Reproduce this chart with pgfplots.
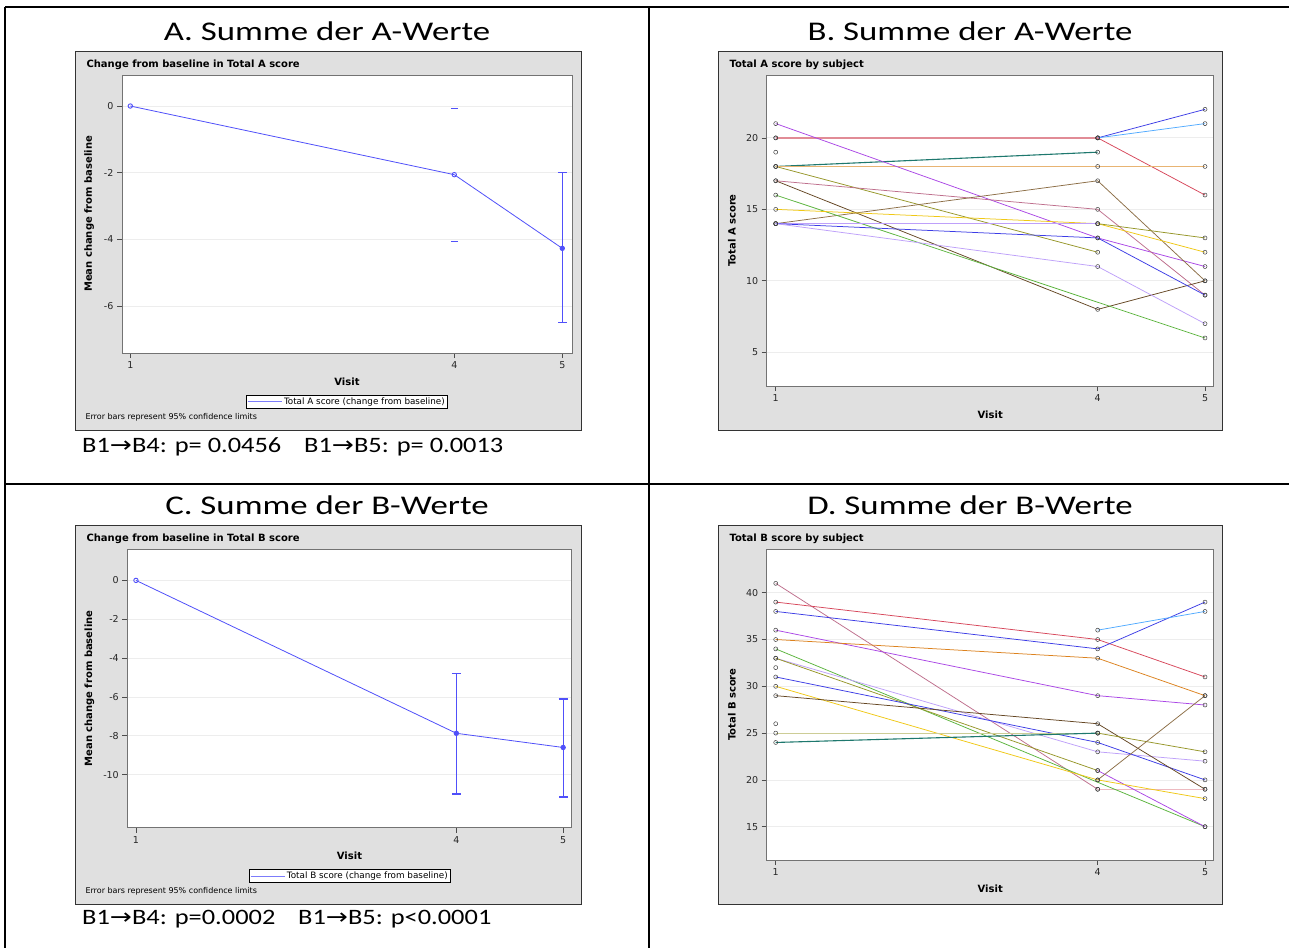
\documentclass[border=0pt]{standalone}
\usepackage{fontspec}
\setmainfont{Carlito}
\newfontfamily\sasfont{DejaVu Sans}
\newfontfamily\arrowfont{DejaVu Sans}
\usepackage{pgfplots}
\pgfplotsset{compat=1.18}

\definecolor{sasgray}{RGB}{224,224,224}
\definecolor{sasblue}{RGB}{80,80,250}
\definecolor{cpink}{RGB}{225,140,150}
\definecolor{cred}{RGB}{215,70,90}
\definecolor{cblue}{RGB}{60,60,230}
\definecolor{clightblue}{RGB}{80,170,255}
\definecolor{cteal}{RGB}{30,120,110}
\definecolor{ctan}{RGB}{232,180,115}
\definecolor{corange}{RGB}{220,130,30}
\definecolor{colive}{RGB}{150,150,40}
\definecolor{cpurple}{RGB}{170,70,230}
\definecolor{cmauve}{RGB}{190,110,140}
\definecolor{cdbrown}{RGB}{100,70,35}
\definecolor{cbrown}{RGB}{140,110,70}
\definecolor{cgreen}{RGB}{90,180,60}
\definecolor{cyellow}{RGB}{240,200,20}
\definecolor{clavender}{RGB}{190,160,250}
\definecolor{cpaleolive}{RGB}{205,205,150}

\pgfplotsset{
  sas/.style={
    scale only axis,
    anchor=south west,
    axis background/.style={fill=white},
    axis line style={black!55, line width=0.8pt},
    xtick pos=bottom, ytick pos=left,
    tick align=outside,
    major tick length=5pt,
    tick style={black!70, line width=0.7pt},
    xtick={1,4,5},
    ymajorgrids,
    grid style={black!7, line width=0.8pt},
    /pgf/number format/assume math mode=true,
    ticklabel style={font=\sasfont\fontsize{9.5}{10}\selectfont, text=black!85},
    label style={font=\sasfont\bfseries\fontsize{10}{11}\selectfont},
    xlabel={Visit},
  },
  meanline/.style={sasblue, line width=0.8pt, mark=o, mark size=2.2pt,
    mark options={line width=0.9pt}},
  ebar/.style={forget plot, sasblue, only marks, mark=none,
    error bars/.cd, y dir=both, y explicit,
    error bar style={sasblue, line width=1.3pt},
    error mark options={rotate=90, sasblue, mark size=4.5pt, line width=1.3pt}},
  meanlegend/.style={
    legend style={at={#1}, anchor=center, draw=black, line width=0.8pt,
      fill=white, inner sep=0.5pt,
      font=\sasfont\fontsize{8.8}{9.5}\selectfont},
  },
  subj/.style={#1, line width=0.75pt, mark=o, mark size=2pt,
    mark options={draw=black!75, line width=0.5pt, solid}},
}

\begin{document}
\begin{tikzpicture}[x=1pt,y=1pt]
\useasboundingbox (0pt,0pt) rectangle (1289pt,-948pt);

% table frame
\draw[line width=2pt] (5pt,-7pt) -- (1289pt,-7pt);
\draw[line width=2pt] (5pt,-7pt) -- (5pt,-948pt);
\draw[line width=2pt] (649pt,-7pt) -- (649pt,-948pt);
\draw[line width=2pt] (5pt,-484pt) -- (1289pt,-484pt);

% panel headings
\begin{scope}[font=\fontsize{27}{30}\selectfont]
\node at (327pt,-31pt) {\scalebox{1.29}[1]{A. Summe der A-Werte}};
\node at (970pt,-31pt) {\scalebox{1.29}[1]{B. Summe der A-Werte}};
\node at (327pt,-505pt) {\scalebox{1.29}[1]{C. Summe der B-Werte}};
\node at (970pt,-505pt) {\scalebox{1.29}[1]{D. Summe der B-Werte}};
\end{scope}

\node[anchor=west, font=\fontsize{22}{24}\selectfont, inner sep=0pt] at (82pt,-447pt)
  {\scalebox{1.2}[1]{B1{\arrowfont →}B4: p= 0.0456\hspace{14pt} B1{\arrowfont →}B5: p= 0.0013}};
\node[anchor=west, font=\fontsize{22}{24}\selectfont, inner sep=0pt] at (82pt,-919pt)
  {\scalebox{1.2}[1]{B1{\arrowfont →}B4: p=0.0002\hspace{14pt} B1{\arrowfont →}B5: p<0.0001}};

% SAS panel backgrounds
\draw[black!80, fill=sasgray, line width=0.8pt] (75pt,-51pt) rectangle (581pt,-430pt);
\draw[black!80, fill=sasgray, line width=0.8pt] (718pt,-51pt) rectangle (1222pt,-430pt);
\draw[black!80, fill=sasgray, line width=0.8pt] (75pt,-525pt) rectangle (581pt,-904pt);
\draw[black!80, fill=sasgray, line width=0.8pt] (718pt,-525pt) rectangle (1222pt,-904pt);

\begin{scope}[font=\sasfont\bfseries\fontsize{10}{11}\selectfont]
\node[anchor=west] at (83pt,-65pt) {Change from baseline in Total A score};
\node[anchor=west] at (726pt,-65pt) {Total A score by subject};
\node[anchor=west] at (83pt,-539pt) {Change from baseline in Total B score};
\node[anchor=west] at (726pt,-539pt) {Total B score by subject};
\end{scope}
\begin{scope}[font=\sasfont\fontsize{8}{9}\selectfont]
\node[anchor=west] at (82pt,-417pt) {Error bars represent 95\% confidence limits};
\node[anchor=west] at (82pt,-891pt) {Error bars represent 95\% confidence limits};
\end{scope}

% ---- A: mean change, Total A
\begin{axis}[sas, at={(122pt,-353pt)}, width=450pt, height=278pt,
  xmin=0.923, xmax=5.09, ymin=-7.41, ymax=0.93, ytick={-6,-4,-2,0},
  ylabel={Mean change from baseline},
  ylabel style={at={(axis description cs:-0.073,0.5)}, anchor=center},
  xlabel style={at={(axis description cs:0.5,-0.104)}, anchor=center},
  meanlegend={(0.5,-0.175)},
  legend image code/.code={\draw[draw=sasblue!75, line width=0.8pt] (0pt,0pt) -- (34pt,0pt);}]
\addplot[meanline] coordinates {(1,0) (4,-2.06) (5,-4.27)};
\addlegendentry{Total A score (change from baseline)}
\addplot[ebar] coordinates {(5,-4.27) += (0,2.27) -= (0,2.23)};
\addplot[forget plot, only marks, mark=-, mark size=3.5pt,
  mark options={draw=sasblue, line width=0.7pt}] coordinates {(4,-0.07) (4,-4.07)};
\end{axis}

% ---- B: Total A by subject
\begin{axis}[sas, at={(766.7pt,-386pt)}, width=447pt, height=311pt,
  xmin=0.916, xmax=5.081, ymin=2.64, ymax=24.4, ytick={5,10,15,20},
  ylabel={Total A score},
  ylabel style={at={(axis description cs:-0.078,0.5)}, anchor=center},
  xlabel style={at={(axis description cs:0.5,-0.093)}, anchor=center}]
\addplot[subj=cblue] coordinates {(1,20) (4,20) (5,22)};
\addplot[subj=clightblue] coordinates {(4,20) (5,21)};
\addplot[subj=cpink, line width=1.6pt] coordinates {(1,20) (4,20)};
\addplot[subj=cred] coordinates {(4,20) (5,16)};
\addplot[subj=black, only marks] coordinates {(1,19)};
\addplot[subj=cteal, line width=1.1pt] coordinates {(1,18) (4,19)};
\addplot[subj=colive] coordinates {(1,18) (4,12)};
\addplot[subj=ctan, line width=1.8pt] coordinates {(1,18) (4,18) (5,18)};
\addplot[subj=cpurple] coordinates {(1,21) (4,13) (5,11)};
\addplot[subj=cmauve] coordinates {(1,17) (4,15) (5,9)};
\addplot[subj=cdbrown] coordinates {(1,17) (4,8) (5,10)};
\addplot[subj=cbrown] coordinates {(1,14) (4,17) (5,10)};
\addplot[subj=cgreen] coordinates {(1,16) (5,6)};
\addplot[subj=cyellow] coordinates {(1,15) (4,14) (5,12)};
\addplot[subj=clavender] coordinates {(1,14) (4,14)};
\addplot[subj=colive] coordinates {(4,14) (5,13)};
\addplot[subj=cblue] coordinates {(1,14) (4,13) (5,9)};
\addplot[subj=clavender] coordinates {(1,14) (4,11) (5,7)};
\end{axis}

% ---- C: mean change, Total B
\begin{axis}[sas, at={(127.3pt,-827.7pt)}, width=444.4pt, height=278.4pt,
  xmin=0.919, xmax=5.08, ymin=-12.73, ymax=1.6, ytick={-10,-8,-6,-4,-2,0},
  ylabel={Mean change from baseline},
  ylabel style={at={(axis description cs:-0.0855,0.5)}, anchor=center},
  xlabel style={at={(axis description cs:0.5,-0.102)}, anchor=center},
  meanlegend={(0.501,-0.1735)},
  legend image code/.code={\draw[draw=sasblue!75, line width=0.8pt] (0pt,0pt) -- (34pt,0pt);}]
\addplot[meanline] coordinates {(1,0) (4,-7.87) (5,-8.6)};
\addlegendentry{Total B score (change from baseline)}
\addplot[ebar] coordinates {(4,-7.87) += (0,3.07) -= (0,3.13)
  (5,-8.6) += (0,2.5) -= (0,2.55)};
\end{axis}

% ---- D: Total B by subject
\begin{axis}[sas, at={(766.7pt,-860pt)}, width=447pt, height=311pt,
  xmin=0.916, xmax=5.081, ymin=11.44, ymax=44.67, ytick={15,20,25,30,35,40},
  ylabel={Total B score},
  ylabel style={at={(axis description cs:-0.078,0.5)}, anchor=center},
  xlabel style={at={(axis description cs:0.5,-0.093)}, anchor=center}]
\addplot[subj=cmauve] coordinates {(1,41) (4,19)};
\addplot[subj=cpink!60, line width=0.6pt] coordinates {(4,19) (5,19)};
\addplot[subj=cred] coordinates {(1,39) (4,35) (5,31)};
\addplot[subj=cblue] coordinates {(1,38) (4,34) (5,39)};
\addplot[subj=clightblue] coordinates {(4,36) (5,38)};
\addplot[subj=cpurple] coordinates {(1,36) (4,29) (5,28)};
\addplot[subj=corange] coordinates {(1,35) (4,33) (5,29)};
\addplot[subj=cgreen] coordinates {(1,34) (5,15)};
\addplot[subj=clavender] coordinates {(1,33) (4,23) (5,22)};
\addplot[subj=colive] coordinates {(1,33) (4,21)};
\addplot[subj=cpurple] coordinates {(4,21) (5,15)};
\addplot[subj=black, only marks] coordinates {(1,32) (1,26)};
\addplot[subj=cblue] coordinates {(1,31) (4,24) (5,20)};
\addplot[subj=cyellow] coordinates {(1,30) (4,20) (5,18)};
\addplot[subj=cdbrown] coordinates {(1,29) (4,26) (5,19)};
\addplot[subj=cpaleolive, line width=1.2pt] coordinates {(1,25) (4,25)};
\addplot[subj=colive] coordinates {(4,25) (5,23)};
\addplot[subj=cteal, line width=1.1pt] coordinates {(1,24) (4,25)};
\addplot[subj=cbrown] coordinates {(4,20) (5,29)};
\end{axis}
\end{tikzpicture}
\end{document}
